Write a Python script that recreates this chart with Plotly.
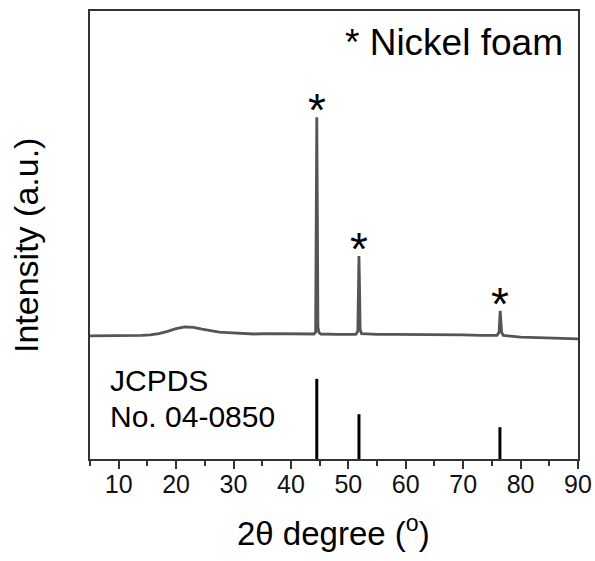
import plotly.graph_objects as go

# Measured XRD pattern of nickel foam (2-theta in degrees, intensity in a.u.)
two_theta = [5, 8, 11, 14, 15.5, 17, 18.5, 20, 21.5, 23, 24.5, 26, 27.5, 29, 31,
             33.5, 36, 39, 42, 44.0, 44.3, 44.42, 44.5, 44.6, 44.7, 44.85, 45.2,
             48, 51.3, 51.65, 51.78, 51.85, 51.95, 52.05, 52.3, 55, 58, 61, 64,
             67, 70, 73, 75.9, 76.25, 76.38, 76.45, 76.55, 76.7, 77, 80, 83, 86,
             88, 90]
intensity = [27.5, 27.5, 27.6, 27.6, 27.7, 28.0, 28.5, 29.1, 29.5, 29.4, 29.0,
             28.6, 28.3, 28.2, 28.1, 27.9, 28.0, 28.0, 27.9, 27.9, 28.3, 56.3,
             76.3, 56.0, 29.5, 28.3, 27.9, 27.8, 27.8, 28.5, 38.2, 45.3, 38.0,
             29.0, 28.0, 27.8, 27.8, 27.8, 27.8, 27.7, 27.7, 27.6, 27.6, 28.3,
             31.0, 33.1, 31.0, 28.2, 27.6, 27.2, 27.1, 26.9, 26.9, 26.8]

# Reference stick pattern, JCPDS No. 04-0850 (Ni)
ref_positions = [44.5, 51.85, 76.4]
ref_heights = [17.9, 10.0, 7.1]

# Peaks marked with an asterisk
marked_peaks = [44.5, 51.85, 76.4]
marked_tops = [76.3, 45.3, 33.1]

x_ticks = [10, 20, 30, 40, 50, 60, 70, 80, 90]

FONT = "Liberation Sans, Arial, sans-serif"

fig = go.Figure()

fig.add_trace(go.Scatter(
    x=two_theta, y=intensity, mode="lines",
    line=dict(color="#555555", width=2.8),
    showlegend=False, hoverinfo="skip",
))

stick_x, stick_y = [], []
for pos, h in zip(ref_positions, ref_heights):
    stick_x += [pos, pos, None]
    stick_y += [0, h, None]
fig.add_trace(go.Scatter(
    x=stick_x, y=stick_y, mode="lines",
    line=dict(color="#000000", width=3),
    showlegend=False, hoverinfo="skip",
))

annotations = []
for pos, top in zip(marked_peaks, marked_tops):
    annotations.append(dict(
        x=pos, y=top, xref="x", yref="y", text="*", showarrow=False,
        xanchor="center", yanchor="bottom", yshift=-21,
        font=dict(family=FONT, size=46, color="#000000"),
    ))

# Legend-like note and reference card label
annotations += [
    dict(x=(343 - 90) / 488, y=(459 - 42) / 448, xref="paper", yref="paper",
         text="* Nickel foam", showarrow=False, xanchor="left", yanchor="middle",
         font=dict(family=FONT, size=37, color="#000000")),
    dict(x=(108 - 90) / 488, y=(459 - 380) / 448, xref="paper", yref="paper",
         text="JCPDS", showarrow=False, xanchor="left", yanchor="middle",
         font=dict(family=FONT, size=30, color="#000000")),
    dict(x=(108 - 90) / 488, y=(459 - 416) / 448, xref="paper", yref="paper",
         text="No. 04-0850", showarrow=False, xanchor="left", yanchor="middle",
         font=dict(family=FONT, size=30, color="#000000")),
    # axis titles
    dict(x=(26 - 90) / 488, y=(459 - 246) / 448, xref="paper", yref="paper",
         text="Intensity (a.u.)", textangle=-90, showarrow=False,
         xanchor="center", yanchor="middle",
         font=dict(family=FONT, size=34, color="#000000")),
    dict(x=(333 - 90) / 488, y=(459 - 531) / 448, xref="paper", yref="paper",
         text="2\u03b8 degree (<sup>o</sup>)", showarrow=False,
         xanchor="center", yanchor="middle",
         font=dict(family=FONT, size=33, color="#000000")),
]

fig.update_layout(
    width=595, height=561,
    margin=dict(l=90, r=17, t=11, b=102, autoexpand=False),
    paper_bgcolor="white", plot_bgcolor="white",
    annotations=annotations,
    xaxis=dict(
        range=[5, 90], tickvals=x_ticks, ticktext=[str(v) for v in x_ticks],
        showline=True, linecolor="#333333", linewidth=2, mirror=True,
        ticks="outside", ticklen=8, tickwidth=2, tickcolor="#333333",
        minor=dict(ticks="outside", dtick=5, tick0=5, ticklen=5, tickwidth=2,
                   tickcolor="#333333"),
        showgrid=False, zeroline=False, automargin=False,
        tickfont=dict(family=FONT, size=25, color="#111111"),
        ticklabelstandoff=-6,
    ),
    yaxis=dict(
        range=[0, 100], showline=True, linecolor="#333333", linewidth=2,
        mirror=True, ticks="", showticklabels=False, showgrid=False,
        zeroline=False, automargin=False,
    ),
)

fig.write_html("out.html")
